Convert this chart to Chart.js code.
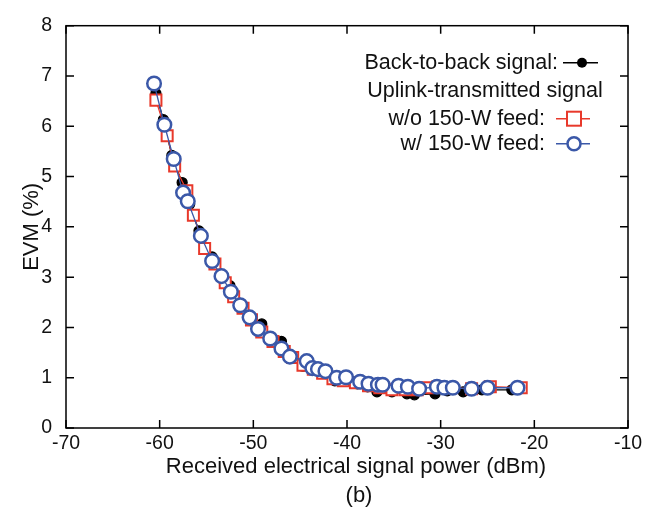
<!DOCTYPE html>
<html>
<head>
<meta charset="utf-8">
<script src="https://cdn.jsdelivr.net/npm/chart.js@4.4.0/dist/chart.umd.min.js"></script>
<style>
  html, body { margin: 0; padding: 0; background: #fff; }
  #wrap { width: 661px; height: 514px; position: relative; }
</style>
</head>
<body>
<div id="wrap"><canvas id="evmChart" width="661" height="514"></canvas></div>
<script>
// Back-to-back signal (black dots)
const b2bPower = [-60.4, -59.6, -58.7, -57.6, -56.8, -55.8, -54.4, -53.4, -52.5, -51.4, -50.4, -49.1, -48.2, -47.0, -46.0, -44.7, -43.5, -42.4, -41.3, -40.1, -38.9, -37.8, -36.8, -35.2, -33.6, -32.8, -30.6, -29.3, -27.6, -25.6, -22.4];
const b2bEvm = [6.65, 6.13, 5.42, 4.88, 4.45, 3.92, 3.40, 3.04, 2.83, 2.48, 2.20, 2.07, 1.81, 1.72, 1.40, 1.23, 1.19, 1.09, 0.94, 0.94, 0.88, 0.82, 0.72, 0.72, 0.68, 0.66, 0.68, 0.74, 0.72, 0.76, 0.76];

// Uplink, w/o 150-W feed (red squares)
const noFeedPower = [-60.4, -59.2, -58.4, -57.1, -56.4, -55.2, -54.1, -53.0, -52.1, -51.1, -50.2, -49.1, -47.9, -46.7, -45.8, -44.7, -43.6, -42.6, -41.5, -40.4, -39.1, -37.7, -36.5, -35.2, -33.8, -32.5, -31.4, -30.3, -28.9, -26.7, -24.7, -21.4];
const noFeedEvm = [6.52, 5.81, 5.21, 4.72, 4.23, 3.57, 3.26, 2.89, 2.61, 2.38, 2.15, 1.91, 1.72, 1.52, 1.40, 1.25, 1.17, 1.09, 0.98, 0.94, 0.90, 0.84, 0.80, 0.76, 0.76, 0.76, 0.80, 0.82, 0.80, 0.78, 0.82, 0.80];

// Uplink, w/ 150-W feed (blue circles)
const feedPower = [-60.6, -59.5, -58.5, -57.5, -57.0, -55.6, -54.4, -53.4, -52.4, -51.4, -50.4, -49.5, -48.2, -47.0, -46.1, -44.3, -43.7, -43.1, -42.3, -41.1, -40.1, -38.6, -37.7, -36.7, -36.2, -34.5, -33.5, -32.3, -30.4, -29.6, -28.7, -26.7, -25.0, -21.8];
const feedEvm = [6.85, 6.03, 5.35, 4.68, 4.51, 3.82, 3.32, 3.02, 2.71, 2.44, 2.20, 1.97, 1.78, 1.58, 1.42, 1.33, 1.19, 1.17, 1.13, 1.00, 1.01, 0.92, 0.88, 0.86, 0.86, 0.84, 0.82, 0.78, 0.82, 0.80, 0.80, 0.78, 0.80, 0.80];

const xTicks = [-70, -60, -50, -40, -30, -20, -10];
const yTicks = [0, 1, 2, 3, 4, 5, 6, 7, 8];

const FONT = 'Liberation Sans, Arial, sans-serif';
const RED = '#e8392b';
const BLUE = '#3b58a8';

function pts(xs, ys) {
    return xs.map((x, i) => ({ x: x, y: ys[i] }));
}

// box around the plot area, inward ticks on all four sides, titles and the legend
const framePlugin = {
    id: 'frame',
    afterDraw(chart) {
        const ctx = chart.ctx;
        const a = chart.chartArea;
        const xs = chart.scales.x, ys = chart.scales.y;
        ctx.save();
        ctx.strokeStyle = '#000';
        ctx.lineWidth = 1.5;
        ctx.strokeRect(a.left, a.top, a.right - a.left, a.bottom - a.top);
        ctx.beginPath();
        xTicks.forEach(v => {
            const px = xs.getPixelForValue(v);
            ctx.moveTo(px, a.bottom); ctx.lineTo(px, a.bottom - 8);
            ctx.moveTo(px, a.top); ctx.lineTo(px, a.top + 8);
        });
        yTicks.forEach(v => {
            const py = ys.getPixelForValue(v);
            ctx.moveTo(a.left, py); ctx.lineTo(a.left + 8, py);
            ctx.moveTo(a.right, py); ctx.lineTo(a.right - 8, py);
        });
        ctx.stroke();

        // axis titles and "(b)"
        ctx.fillStyle = '#111';
        ctx.font = '22px ' + FONT;
        ctx.textAlign = 'center';
        ctx.textBaseline = 'middle';
        ctx.fillText('Received electrical signal power (dBm)', 356, a.bottom + 39);
        ctx.fillText('(b)', 359, a.bottom + 68);
        ctx.save();
        ctx.translate(32, (a.top + a.bottom) / 2);
        ctx.rotate(-Math.PI / 2);
        ctx.fillText('EVM (%)', 0, 0);
        ctx.restore();

        // legend
        ctx.font = '21.5px ' + FONT;
        ctx.textAlign = 'right';
        ctx.fillText('Back-to-back signal:', a.left + 492, a.top + 37);
        ctx.textAlign = 'center';
        ctx.fillText('Uplink-transmitted signal', a.left + 419, a.top + 65);
        ctx.textAlign = 'right';
        ctx.fillText('w/o 150-W feed:', a.left + 479, a.top + 93);
        ctx.fillText('w/ 150-W feed:', a.left + 479, a.top + 118);

        // legend samples
        ctx.lineWidth = 1.5;
        ctx.strokeStyle = '#000';
        ctx.beginPath(); ctx.moveTo(a.left + 497, a.top + 37); ctx.lineTo(a.left + 532, a.top + 37); ctx.stroke();
        ctx.fillStyle = '#000';
        ctx.beginPath(); ctx.arc(a.left + 516, a.top + 37, 5, 0, Math.PI * 2); ctx.fill();

        ctx.strokeStyle = RED;
        ctx.beginPath(); ctx.moveTo(a.left + 490, a.top + 93); ctx.lineTo(a.left + 524, a.top + 93); ctx.stroke();
        ctx.fillStyle = '#fff';
        ctx.lineWidth = 2;
        ctx.fillRect(a.left + 501, a.top + 86, 14, 14);
        ctx.strokeRect(a.left + 501, a.top + 86, 14, 14);

        ctx.strokeStyle = BLUE;
        ctx.lineWidth = 1.5;
        ctx.beginPath(); ctx.moveTo(a.left + 490, a.top + 118); ctx.lineTo(a.left + 524, a.top + 118); ctx.stroke();
        ctx.lineWidth = 2.5;
        ctx.beginPath(); ctx.arc(a.left + 508, a.top + 118, 6.5, 0, Math.PI * 2); ctx.fill(); ctx.stroke();
        ctx.restore();
    }
};

const ctx = document.getElementById('evmChart').getContext('2d');
new Chart(ctx, {
    type: 'scatter',
    data: {
        datasets: [{
            label: 'w/ 150-W feed',
            data: pts(feedPower, feedEvm),
            showLine: true,
            borderColor: BLUE,
            borderWidth: 1.3,
            pointBackgroundColor: '#fff',
            pointBorderColor: BLUE,
            pointBorderWidth: 2.5,
            pointRadius: 6.8,
            order: 0
        }, {
            label: 'w/o 150-W feed',
            data: pts(noFeedPower, noFeedEvm),
            showLine: true,
            borderColor: RED,
            borderWidth: 1.3,
            pointStyle: 'rect',
            pointBackgroundColor: '#fff',
            pointBorderColor: RED,
            pointBorderWidth: 2,
            pointRadius: 7.8,
            order: 1
        }, {
            label: 'Back-to-back signal',
            data: pts(b2bPower, b2bEvm),
            showLine: true,
            borderColor: '#000',
            borderWidth: 1.3,
            pointBackgroundColor: '#000',
            pointBorderColor: '#000',
            pointRadius: 5,
            order: 2
        }]
    },
    options: {
        responsive: false,
        animation: false,
        layout: { padding: { left: 0, right: 33, top: 18, bottom: 0 } },
        plugins: {
            legend: { display: false },
            tooltip: { enabled: false }
        },
        scales: {
            x: {
                type: 'linear',
                min: -70,
                max: -10,
                afterBuildTicks: s => { s.ticks = xTicks.map(v => ({ value: v })); },
                afterFit: s => { s.height = 86; },
                grid: { display: false, drawTicks: false },
                border: { display: false },
                ticks: { color: '#111', font: { family: FONT, size: 19.5 }, padding: 4, maxRotation: 0 }
            },
            y: {
                type: 'linear',
                min: 0,
                max: 8,
                afterBuildTicks: s => { s.ticks = yTicks.map(v => ({ value: v })); },
                afterFit: s => { s.width = 66; },
                grid: { display: false, drawTicks: false },
                border: { display: false },
                ticks: { color: '#111', font: { family: FONT, size: 19.5 }, padding: 14 }
            }
        }
    },
    plugins: [framePlugin]
});
</script>
</body>
</html>
